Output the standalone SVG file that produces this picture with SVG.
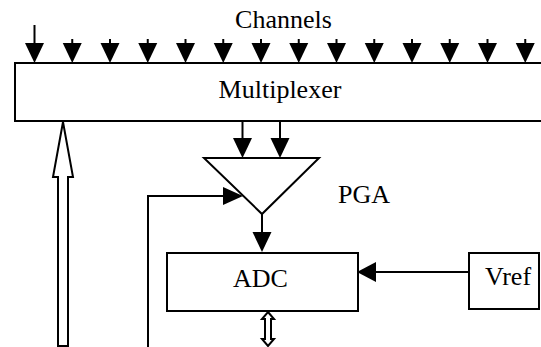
<svg xmlns="http://www.w3.org/2000/svg" width="541" height="347" viewBox="0 0 541 347">
<style>
.box{fill:#fff;stroke:#000;stroke-width:2}
.ln{fill:none;stroke:#000;stroke-width:2}
.hd{fill:#000;stroke:none}
.hollow{fill:#fff;stroke:#000;stroke-width:2;stroke-linejoin:miter}
text{font-family:"Liberation Serif","Times New Roman",serif;font-size:26px;fill:#000}
</style>
<defs>
<path id="dn" d="M-9.5,43 L9.5,43 L0,63 Z"/>
</defs>
<rect width="541" height="347" fill="#fff"/>
<g id="channels-label"><text x="283.5" y="28" text-anchor="middle">Channels</text></g>
<g id="multiplexer">
<path class="box" d="M545,63 L15,63 L15,121 L545,121"/>
<text x="280" y="98" text-anchor="middle">Multiplexer</text>
</g>
<g id="pga">
<polygon class="box" points="204,158 319,158 262,214"/>
<text x="338" y="203">PGA</text>
</g>
<g id="adc">
<rect class="box" x="167" y="253" width="191" height="58"/>
<text x="233" y="287">ADC</text>
</g>
<g id="vref">
<rect class="box" x="469" y="253" width="70" height="56"/>
<text x="485" y="285">Vref</text>
</g>
<g id="connectors">
<g id="channel-arrows">
<line class="ln" x1="34.5" y1="25" x2="34.5" y2="45"/>
<use href="#dn" x="34.5"/>
<line class="ln" x1="72.25" y1="39" x2="72.25" y2="45"/><use href="#dn" x="72.25"/>
<line class="ln" x1="110" y1="39" x2="110" y2="45"/><use href="#dn" x="110"/>
<line class="ln" x1="147.75" y1="39" x2="147.75" y2="45"/><use href="#dn" x="147.75"/>
<line class="ln" x1="185.5" y1="39" x2="185.5" y2="45"/><use href="#dn" x="185.5"/>
<line class="ln" x1="223.25" y1="39" x2="223.25" y2="45"/><use href="#dn" x="223.25"/>
<line class="ln" x1="261" y1="39" x2="261" y2="45"/><use href="#dn" x="261"/>
<line class="ln" x1="298.75" y1="39" x2="298.75" y2="45"/><use href="#dn" x="298.75"/>
<line class="ln" x1="336.5" y1="39" x2="336.5" y2="45"/><use href="#dn" x="336.5"/>
<line class="ln" x1="374.25" y1="39" x2="374.25" y2="45"/><use href="#dn" x="374.25"/>
<line class="ln" x1="412" y1="39" x2="412" y2="45"/><use href="#dn" x="412"/>
<line class="ln" x1="449.75" y1="39" x2="449.75" y2="45"/><use href="#dn" x="449.75"/>
<line class="ln" x1="487.5" y1="39" x2="487.5" y2="45"/><use href="#dn" x="487.5"/>
<line class="ln" x1="525.25" y1="39" x2="525.25" y2="45"/><use href="#dn" x="525.25"/>
</g>
<line class="ln" x1="242.5" y1="121" x2="242.5" y2="140"/>
<path class="hd" d="M233,138 L252,138 L242.5,158 Z"/>
<line class="ln" x1="280" y1="121" x2="280" y2="140"/>
<path class="hd" d="M270.5,138 L289.5,138 L280,158 Z"/>
<line class="ln" x1="262" y1="214" x2="262" y2="234"/>
<path class="hd" d="M252.5,232 L271.5,232 L262,252 Z"/>
<line class="ln" x1="469" y1="272" x2="374" y2="272"/>
<path class="hd" d="M376,262 L376,282 L357,272 Z"/>
<polyline class="ln" points="148,347 148,196 225,196"/>
<path class="hd" d="M223,187 L223,205 L243,196 Z"/>
<polygon class="hollow" points="63,122 73,177 68,177 68,346 58,346 58,177 53,177"/>
<polygon class="hollow" points="268,312 274,319 271,319 271,339 274,339 268,346 262,339 265,339 265,319 262,319"/>
</g>
</svg>
